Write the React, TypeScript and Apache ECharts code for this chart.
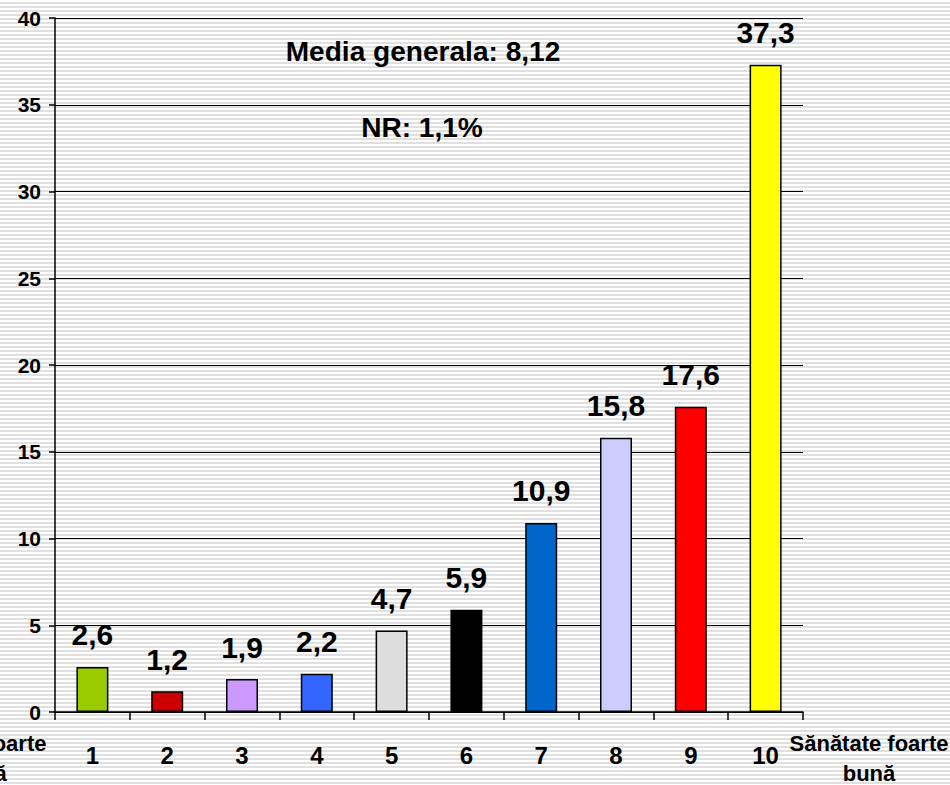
import React, { useEffect, useRef } from "react";
import * as echarts from "echarts";

const categories = ["1", "2", "3", "4", "5", "6", "7", "8", "9", "10"];
const values = [2.6, 1.2, 1.9, 2.2, 4.7, 5.9, 10.9, 15.8, 17.6, 37.3];
const barColors = ["#99cc00", "#cc0000", "#cc99ff", "#3366ff", "#dddddd", "#000000", "#0066cc", "#ccccff", "#ff0000", "#ffff00"];
const yTicks = { min: 0, max: 40, interval: 5 };
const noteMean = "Media generala: 8,12";
const noteNR = "NR: 1,1%";
const leftEndLabel = "Sănătate foarte\nproastă";
const rightEndLabel = "Sănătate foarte\nbună";

const FONT = "Arial, 'Liberation Sans', sans-serif";

export default function App() {
  const ref = useRef<HTMLDivElement>(null);
  useEffect(() => {
    document.body.style.margin = "0";
    const chart = echarts.init(ref.current!, null, { renderer: "svg" });
    chart.setOption({
      animation: false,
      backgroundColor: "transparent",
      grid: { left: 55, right: 147, top: 18, bottom: 73 },
      xAxis: {
        type: "category",
        data: categories,
        axisLine: { lineStyle: { color: "#000", width: 1.5 } },
        axisTick: { show: true, length: 8, lineStyle: { color: "#000", width: 1.5 } },
        axisLabel: { color: "#000", fontSize: 24, fontWeight: "bold", fontFamily: FONT, margin: 31 },
      },
      yAxis: {
        type: "value",
        min: yTicks.min,
        max: yTicks.max,
        interval: yTicks.interval,
        axisLine: { show: true, lineStyle: { color: "#000", width: 1.5 } },
        axisTick: { show: true, length: 6, lineStyle: { color: "#000", width: 1.5 } },
        axisLabel: { color: "#000", fontSize: 21, fontWeight: "bold", fontFamily: FONT, margin: 14 },
        splitLine: { show: true, lineStyle: { color: "#000", width: 1.2 } },
      },
      series: [
        {
          type: "bar",
          data: values.map((v, i) => ({ value: v, itemStyle: { color: barColors[i] } })),
          barWidth: 32,
          itemStyle: { borderColor: "#000", borderWidth: 1.5 },
          label: {
            show: true,
            position: "top",
            distance: 17,
            color: "#000",
            fontSize: 30,
            fontWeight: "bold",
            fontFamily: FONT,
            formatter: (p: any) => String(p.value).replace(".", ","),
          },
        },
      ],
      graphic: [
        {
          type: "text",
          x: 423,
          y: 52,
          scaleX: 1.04,
          style: { text: noteMean, fill: "#000", font: `bold 27px ${FONT}`, textAlign: "center", textVerticalAlign: "middle" },
        },
        {
          type: "text",
          x: 422,
          y: 128,
          scaleX: 1.04,
          style: { text: noteNR, fill: "#000", font: `bold 27px ${FONT}`, textAlign: "center", textVerticalAlign: "middle" },
        },
        {
          type: "text",
          x: -33,
          y: 758,
          style: { text: leftEndLabel, fill: "#000", font: `bold 22px ${FONT}`, textAlign: "center", textVerticalAlign: "middle", lineHeight: 30 },
        },
        {
          type: "text",
          x: 869,
          y: 758,
          style: { text: rightEndLabel, fill: "#000", font: `bold 22px ${FONT}`, textAlign: "center", textVerticalAlign: "middle", lineHeight: 30 },
        },
      ],
    });
    return () => chart.dispose();
  }, []);
  return (
    <div
      ref={ref}
      style={{
        width: 950,
        height: 785,
        backgroundColor: "#ffffff",
        backgroundImage: "repeating-linear-gradient(180deg, #ffffff 0px, #ffffff 2px, #e0e0e0 2px, #e0e0e0 4px)",
      }}
    />
  );
}
